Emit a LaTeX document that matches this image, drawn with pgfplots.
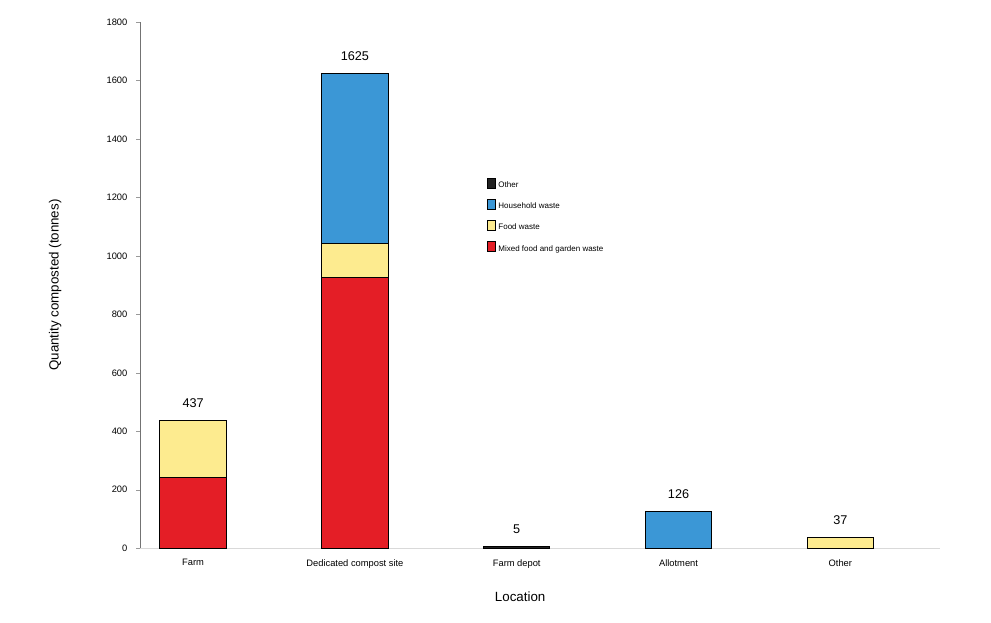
\documentclass[border=0pt]{standalone}
\usepackage{pgfplots}
\pgfplotsset{compat=1.18}
\usepackage{fontspec}
\setmainfont{Liberation Sans}
\definecolor{cred}{HTML}{E41E26}
\definecolor{cyel}{HTML}{FDEB8F}
\definecolor{cblue}{HTML}{3B97D6}
\definecolor{cblack}{HTML}{222222}
\pgfplotsset{
  common/.style={
    scale only axis, width=600pt, height=394.5pt,
    xmin=-0.328, xmax=4.618, ymin=0, ymax=1800,
  }
}
\begin{document}
\begin{tikzpicture}
\path[use as bounding box] (-105pt,-55.5pt) rectangle (638pt,411pt);
\begin{axis}[
  common,
  ybar stacked, bar width=0.41,
  xtick=data, xticklabels={Farm, Dedicated compost site, Farm depot, Allotment, Other},
  ytick={0,200,...,1800},
  axis x line*=bottom, axis y line*=left,
  x axis line style={draw=black!15, -}, y axis line style={draw=black!55, -},
  xtick style={draw=none}, ytick style={draw=black!40},
  tick align=outside, major tick length=3pt,
  ticklabel style={font=\fontsize{7}{8}\selectfont},
  xticklabel style={yshift=-2pt},
  yticklabel style={xshift=-3pt},
  /pgf/number format/assume math mode=true,
  /pgf/number format/1000 sep={},
  xlabel={Location}, ylabel={Quantity composted (tonnes)},
  label style={font=\fontsize{8.5}{10}\selectfont},
  every axis y label/.style={at={(axis description cs:-0.106,0.5)}, rotate=90, anchor=center},
  every axis x label/.style={at={(axis description cs:0.475,-0.093)}, anchor=center},
  legend style={at={(0.428,0.71)}, anchor=north west, draw=none,
    font=\fontsize{6}{7}\selectfont, row sep=4.5pt, fill=white,
    legend image code/.code={\draw[#1, draw=black] (0cm,-0.06cm) rectangle (0.11cm,0.06cm);}},
  legend cell align=left, reverse legend,
  every axis plot/.append style={draw=black, line width=0.7pt},
]
\addplot[fill=cred] coordinates {(0,243) (1,925) (2,0) (3,0) (4,0)};
\addlegendentry{Mixed food and garden waste}
\addplot[fill=cyel] coordinates {(0,194) (1,116) (2,0) (3,0) (4,37)};
\addlegendentry{Food waste}
\addplot[fill=cblue] coordinates {(0,0) (1,584) (2,0) (3,126) (4,0)};
\addlegendentry{Household waste}
\addplot[fill=cblack] coordinates {(0,0) (1,0) (2,5) (3,0) (4,0)};
\addlegendentry{Other}
\end{axis}
\begin{axis}[
  common, hide axis,
  nodes near coords, point meta=explicit symbolic,
  nodes near coords style={font=\fontsize{9.5}{11}\selectfont, black, anchor=south, yshift=6pt},
]
\addplot[draw=none, mark=none, only marks] coordinates
  {(0,437) [437] (1,1625) [1625] (2,5) [5] (3,126) [126] (4,37) [37]};
\end{axis}
\end{tikzpicture}
\end{document}
